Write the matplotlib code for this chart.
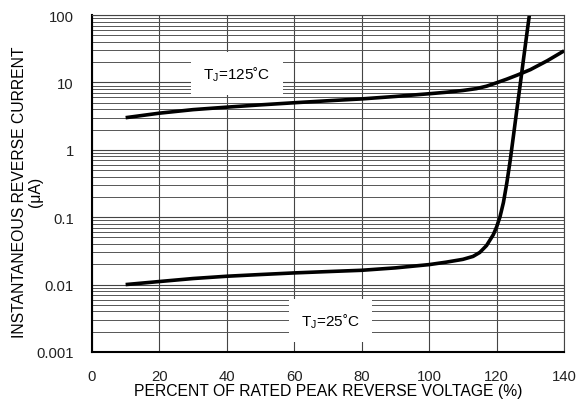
import matplotlib
matplotlib.use('Agg')
from matplotlib import pyplot as plt

plt.rcParams['font.family'] = ['Liberation Sans', 'DejaVu Sans']
plt.rcParams['mathtext.fontset'] = 'custom'
plt.rcParams['mathtext.rm'] = 'Liberation Sans'
plt.rcParams['mathtext.it'] = 'Liberation Sans'

# T_J = 125 C curve
volt_125 = [10, 20, 30, 40, 50, 60, 70, 80, 90, 100, 105, 110, 114, 117, 120, 123,
            126, 130, 135, 140]
curr_125 = [3.0, 3.5, 3.95, 4.3, 4.65, 5.0, 5.35, 5.7, 6.2, 6.8, 7.15, 7.6, 8.1,
            8.8, 9.9, 11.2, 12.8, 15.5, 21.0, 29.5]

# T_J = 25 C curve
volt_25 = [10, 20, 30, 40, 50, 60, 70, 80, 90, 100, 105, 110, 113, 115, 117, 119,
           120, 121, 122, 123, 124, 125, 126, 127, 128, 129, 130]
curr_25 = [0.0100, 0.0111, 0.0123, 0.0133, 0.0141, 0.0149, 0.0156, 0.0163, 0.0177,
           0.0198, 0.0215, 0.0237, 0.0262, 0.0300, 0.038, 0.055, 0.072, 0.102, 0.165,
           0.32, 0.69, 1.65, 4.0, 9.5, 23, 55, 130]

x_ticks = [0, 20, 40, 60, 80, 100, 120, 140]
y_ticks = [0.001, 0.01, 0.1, 1, 10, 100]
y_labels = ['0.001', '0.01', '0.1', '1', '10', '100']

fig = plt.figure(figsize=(5.78, 4.02), dpi=100)
ax = fig.add_axes([0.159, 0.122, 0.817, 0.838])

ax.set_yscale('log')
ax.set_xlim(0, 140)
ax.set_ylim(0.001, 100)

ax.set_xticks(x_ticks)
ax.set_yticks(y_ticks)
ax.set_yticklabels(y_labels)
ax.tick_params(axis='both', which='both', length=0, labelsize=10.7, colors='#222222')
ax.tick_params(axis='y', pad=13)
ax.tick_params(axis='x', pad=12)
ax.minorticks_on()
ax.xaxis.set_minor_locator(matplotlib.ticker.NullLocator())
ax.yaxis.set_minor_formatter(matplotlib.ticker.NullFormatter())

ax.grid(True, which='major', color='#444444', linewidth=0.8)
ax.grid(True, which='minor', axis='y', color='#555555', linewidth=0.7)

for side in ['top', 'right']:
    ax.spines[side].set_color('#444444')
    ax.spines[side].set_linewidth(0.8)
for side in ['left', 'bottom']:
    ax.spines[side].set_color('black')
    ax.spines[side].set_linewidth(1.5)

ax.plot(volt_125, curr_125, color='black', linewidth=2.6, solid_capstyle='butt',
        solid_joinstyle='round')
ax.plot(volt_25, curr_25, color='black', linewidth=2.6, solid_capstyle='butt',
        solid_joinstyle='round')

box = dict(facecolor='white', edgecolor='none', boxstyle='square,pad=0.8')
ax.text(43, 13.4, r'T$_{\rm J}$=125˚C', fontsize=11, ha='center', va='center',
        bbox=box, zorder=3)
ax.text(70.6, 0.0029, r'T$_{\rm J}$=25˚C', fontsize=11, ha='center', va='center',
        bbox=box, zorder=3)

ax.set_xlabel('PERCENT OF RATED PEAK REVERSE VOLTAGE (%)', fontsize=11.3, labelpad=0)
ax.set_ylabel('INSTANTANEOUS REVERSE CURRENT\n(μA)', fontsize=11.3, linespacing=1.05)
ax.yaxis.set_label_coords(-0.104, 0.478)

fig.savefig('out.png', dpi=100)
